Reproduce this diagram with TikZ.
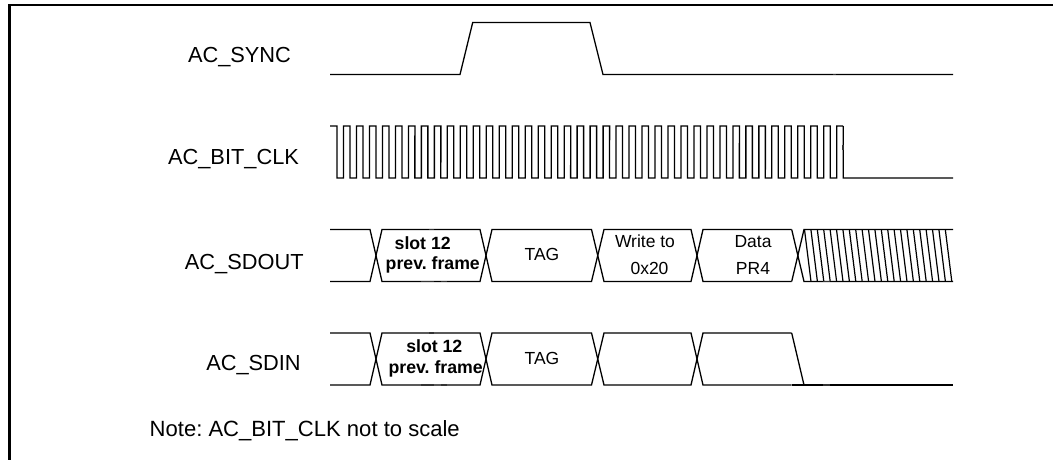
\documentclass[tikz,border=0pt]{standalone}
\usepackage{fontspec}
\setmainfont{Liberation Sans}
\frenchspacing
\tikzset{
  wave/.style={line width=1.3pt,line join=miter,draw=black},
  frameline/.style={line width=2.3pt,draw=black},
  hatchline/.style={line width=1.2pt,draw=black},
  blob/.style={line width=1.9pt,draw=black!80},
  siglabel/.style={anchor=base,inner sep=0pt,font=\fontsize{21.8}{26}\selectfont},
  notelabel/.style={anchor=base west,inner sep=0pt,font=\fontsize{22.05}{26}\selectfont},
  celltext/.style={anchor=base,inner sep=0pt,font=\fontsize{17.5}{21}\selectfont},
  cellbold/.style={anchor=base,inner sep=0pt,font=\fontsize{17.7}{21}\selectfont\bfseries}
}
\begin{document}
\begin{tikzpicture}[x=1pt,y=-1pt]
\useasboundingbox (0,0) rectangle (1053,460);
\fill[white] (0,0) rectangle (1053,460);
% frame
\draw[frameline] (9.5,460) -- (9.5,5.1) -- (1053,5.1);
% labels
\node[siglabel] (lsync) at (239.5,62.3) {AC\_SYNC};
\node[siglabel] (lclk) at (233.5,164) {AC\_BIT\_CLK};
\node[siglabel] (lout) at (244.3,269.3) {AC\_SDOUT};
\node[siglabel] (lin) at (253.5,370) {AC\_SDIN};
\node[notelabel] (lnote) at (149.5,436.7) {Note: AC\_BIT\_CLK not to scale};
% AC_SYNC
\draw[wave] (330,74.5) -- (460,74.5) -- (472.7,22.5) -- (590,22.5) -- (603,74.5) -- (953,74.5);
\draw[blob] (833,74.5) -- (836,74.5);
% AC_BIT_CLK
\draw[wave] (330,126) -- (337,126)
  \foreach \k in {0,...,38} {
    -- ({337+12.98*\k},178) -- ({343.5+12.98*\k},178)
    -- ({343.5+12.98*\k},126) -- ({350+12.98*\k},126)
  }
  -- (843.2,126) -- (843.2,178) -- (953,178);
\draw[blob] (843.2,145) -- (843.2,150);
% bus segments
\foreach \yt/\yb in {229.5/281.5,333/385} {
  \draw[wave] (330,\yt) -- (370,\yt) -- (382,\yb) -- (480,\yb) -- (492,\yt) -- (591.5,\yt) -- (604,\yb) -- (691,\yb) -- (703,\yt) -- (791.7,\yt);
  \draw[wave] (330,\yb) -- (370,\yb) -- (382,\yt) -- (480,\yt) -- (492,\yb) -- (591.5,\yb) -- (604,\yt) -- (691,\yt) -- (703,\yb) -- (791.7,\yb);
  \draw[blob] (421,\yb) -- (434,\yb) (441,\yb) -- (447,\yb) (429,\yt) -- (434,\yt);
}
% AC_SDOUT hatched tail
\draw[wave] (791.7,229.5) -- (804,281.5) -- (953,281.5);
\draw[wave] (791.7,281.5) -- (804,229.5) -- (953,229.5);
\foreach \k in {0,...,22} {
  \draw[hatchline] ({804.5+6.4*\k},229.5) -- ({811+6.4*\k},281.5);
}
\draw[blob] (823,281.5) -- (830,281.5);
% AC_SDIN tail
\draw[wave] (791.7,333) -- (804,385);
\draw[wave] (791.7,385) -- (953,385);
\draw[blob] (823,385) -- (830,385);
% cell texts
\node[cellbold] (a1) at (422.7,249) {slot 12};
\node[cellbold] (a2) at (432.8,269) {prev. frame};
\node[celltext] (a3) at (542,260) {TAG};
\node[celltext] (a4) at (645,247.3) {Write to};
\node[celltext] (a5) at (649.5,274.3) {0x20};
\node[celltext] (a6) at (753,247.3) {Data};
\node[celltext] (a7) at (753,274.3) {PR4};
\node[cellbold] (b1) at (434.3,352.3) {slot 12};
\node[cellbold] (b2) at (435.7,373.3) {prev. frame};
\node[celltext] (b3) at (542,364) {TAG};
\end{tikzpicture}
\end{document}
